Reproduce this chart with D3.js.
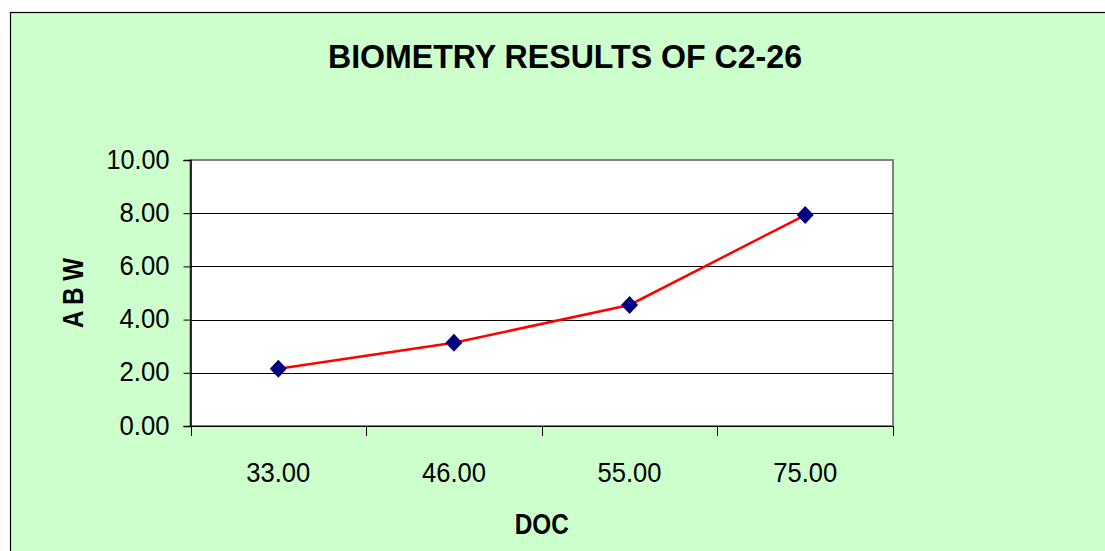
<!DOCTYPE html>
<html>
<head>
<meta charset="utf-8">
<script src="https://cdn.jsdelivr.net/npm/d3@7"></script>
<style>
  body { margin: 0; background: #fff; }
  text { font-family: "Liberation Sans", Arial, sans-serif; }
</style>
</head>
<body>
<div id="main"></div>
<script>
// chart data
var categories = ["33.00", "46.00", "55.00", "75.00"];
var abwValues = [2.15, 3.13, 4.55, 7.93];
var yTicks = [0, 2, 4, 6, 8, 10];

var width = 1105, height = 551;
var plot = { left: 190.5, top: 160, right: 893, bottom: 426 };

var svg = d3.select("#main")
  .append("svg")
  .attr("width", width)
  .attr("height", height);

// outer chart frame
svg.append("rect")
  .attr("x", 10.5).attr("y", 12.5)
  .attr("width", width).attr("height", height)
  .style("fill", "#ccffcc")
  .style("stroke", "#000")
  .style("stroke-width", 1.2);

svg.append("text")
  .attr("x", 565).attr("y", 68)
  .attr("text-anchor", "middle")
  .attr("textLength", 474)
  .attr("lengthAdjust", "spacingAndGlyphs")
  .style("font-size", "34px")
  .style("font-weight", "bold")
  .text("BIOMETRY RESULTS OF C2-26");

var x = d3.scaleBand()
  .domain(categories)
  .range([plot.left, plot.right])
  .padding(0);

var y = d3.scaleLinear()
  .domain([0, 10])
  .range([plot.bottom, plot.top]);

// plot area
svg.append("rect")
  .attr("x", plot.left).attr("y", plot.top)
  .attr("width", plot.right - plot.left)
  .attr("height", plot.bottom - plot.top)
  .style("fill", "#fff")
  .style("stroke", "#808080")
  .style("stroke-width", 2);

// gridlines
svg.append("g")
  .selectAll("line")
  .data(yTicks.filter(function(d) { return d > 0 && d < 10; }))
  .enter()
  .append("line")
  .attr("x1", plot.left).attr("x2", plot.right)
  .attr("y1", function(d) { return Math.round(y(d)) + 0.5; })
  .attr("y2", function(d) { return Math.round(y(d)) + 0.5; })
  .style("stroke", "#000")
  .style("stroke-width", 1);

// y axis
var yAxis = svg.append("g")
  .attr("transform", "translate(" + plot.left + ",0)")
  .call(d3.axisLeft(y).tickValues(yTicks).tickSize(7).tickPadding(14)
    .tickFormat(d3.format(".2f")));
yAxis.select(".domain").style("stroke", "#000").style("stroke-width", 1.5);
yAxis.selectAll(".tick line").style("stroke", "#000");
yAxis.selectAll(".tick text")
  .style("font-size", "27px")
  .style("fill", "#000")
  .attr("dy", "0.3em")
  .attr("textLength", function(d) { return d >= 10 ? 63 : 50; })
  .attr("lengthAdjust", "spacingAndGlyphs");

// x axis
var xAxis = svg.append("g")
  .attr("transform", "translate(0," + plot.bottom + ")")
  .call(d3.axisBottom(x).tickSize(0).tickPadding(0));
xAxis.select(".domain").style("stroke", "#000").style("stroke-width", 1);
xAxis.selectAll(".tick text")
  .attr("y", 55.5).attr("dy", 0)
  .style("font-size", "27px")
  .style("fill", "#000")
  .attr("textLength", 64)
  .attr("lengthAdjust", "spacingAndGlyphs");

var boundaries = categories.map(function(c) { return x(c); }).concat([plot.right]);
xAxis.selectAll(".btick")
  .data(boundaries)
  .enter()
  .append("line")
  .attr("x1", function(d) { return Math.round(d) + 0.5; })
  .attr("x2", function(d) { return Math.round(d) + 0.5; })
  .attr("y1", 0).attr("y2", 10)
  .style("stroke", "#000");

// axis titles
svg.append("text")
  .attr("x", (plot.left + plot.right) / 2).attr("y", 534)
  .attr("text-anchor", "middle")
  .attr("textLength", 54)
  .attr("lengthAdjust", "spacingAndGlyphs")
  .style("font-size", "29px")
  .style("font-weight", "bold")
  .text("DOC");

svg.append("text")
  .attr("transform", "translate(83," + ((plot.top + plot.bottom) / 2) + ") rotate(-90)")
  .attr("text-anchor", "middle")
  .attr("textLength", 70)
  .attr("lengthAdjust", "spacingAndGlyphs")
  .style("font-size", "30px")
  .style("font-weight", "bold")
  .text("A B W");

// series
var line = d3.line()
  .x(function(d, i) { return x(categories[i]) + x.bandwidth() / 2; })
  .y(function(d) { return y(d); });

svg.append("path")
  .datum(abwValues)
  .attr("d", line)
  .style("fill", "none")
  .style("stroke", "#ff0000")
  .style("stroke-width", 2.5);

svg.append("g")
  .selectAll("path")
  .data(abwValues)
  .enter()
  .append("path")
  .attr("transform", function(d, i) {
    return "translate(" + (x(categories[i]) + x.bandwidth() / 2) + "," + y(d) + ")";
  })
  .attr("d", "M0,-9L8.5,0L0,9L-8.5,0Z")
  .style("fill", "#000080");
</script>
</body>
</html>
